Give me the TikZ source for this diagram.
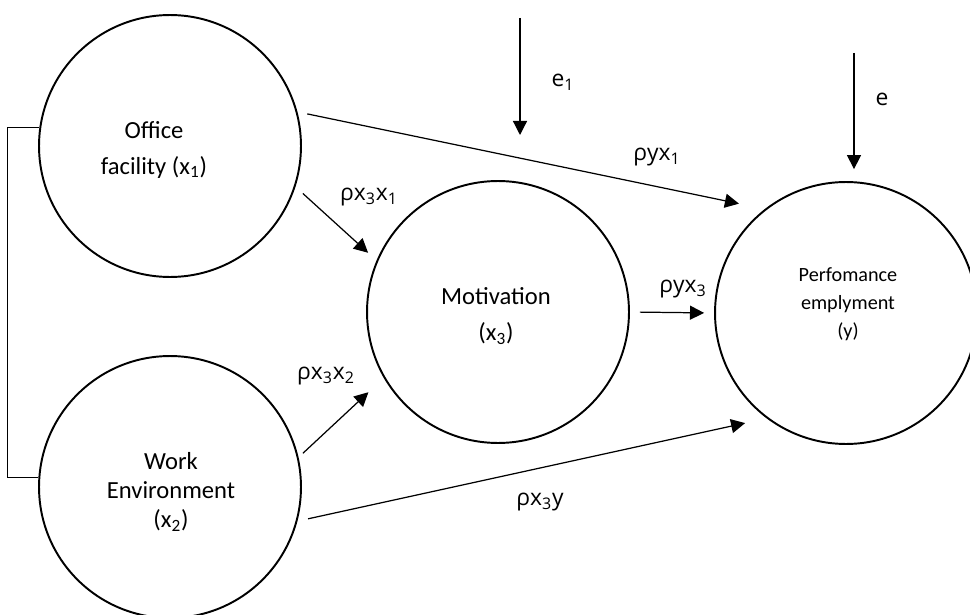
\documentclass[tikz,border=0pt]{standalone}
\usepackage{fontspec}
\setmainfont{Carlito}
\newfontfamily\coeffont{Open Sans}
\usetikzlibrary{arrows.meta}

\begin{document}
\begin{tikzpicture}[x=0.02cm, y=-0.02cm,
				    latent/.style={draw, circle, line width=1.1pt, minimum size=5.24cm,
				    			  inner sep=0pt, text=black},
				    vartext/.style={align=center, text=black},
				    link/.style={-{Triangle[length=8pt, width=8pt]}, line width=0.7pt},
				    coef/.style={font=\coeffont\fontsize{13}{15}\selectfont}]
	\useasboundingbox (0,0) rectangle (970,615);

	\node[latent] (x1) at (170, 146) {};
	\node[latent] (x2) at (170, 487) {};
	\node[latent] (x3) at (498, 312) {};
	\node[latent] (y) at (846, 313) {};

	\node[vartext, font=\fontsize{14}{20}\selectfont] (x1txt) at (154, 150)
		{Office\\facility (x\textsubscript{1})};
	\node[vartext, font=\fontsize{14}{16.5}\selectfont] (x2txt) at (171, 492)
		{Work\\Environment\\(x\textsubscript{2})};
	\node[vartext, font=\fontsize{14}{20.5}\selectfont] (x3txt) at (496, 316)
		{Motivation\\(x\textsubscript{3})};
	\node[vartext, font=\fontsize{11.5}{16}\selectfont] (ytxt) at (848, 304)
		{Perfomance\\emplyment\\(y)};

	\coordinate (e1top) at (520, 18);
	\coordinate (e1end) at (520, 135);
	\coordinate (etop) at (854, 53);

	\path[link] 	(x1.15.5)  edge[shorten <=5.7pt, shorten >=15pt]   (y.128);
	\path[link] 	(x1.-18)   edge[shorten <=5.7pt, shorten >=6.5pt]  (x3.157);
	\path[link] 	(x3.east)  edge[shorten <=5.7pt, shorten >=5.7pt]  (y.west);
	\path[link] 	(x2.13)    edge[shorten <=3.4pt, shorten >=11.9pt] (x3.210);
	\path[link] 	(x2.-15)   edge[shorten <=6.2pt, shorten >=12.5pt] (y.233);
	\path[link] 	(e1top)    edge   (e1end);
	\path[link] 	(etop)     edge[shorten >=6.8pt]   (etop |- y.north);

	\draw[line width=0.7pt] (x1.172) -- ++(-32, 0) |- (x2.176);

	\node[coef] (c1) at (657, 157) {ρyx\textsubscript{1}};
	\node[coef] (c2) at (369, 197) {ρx\textsubscript{3}x\textsubscript{1}};
	\node[coef] (c3) at (326, 376) {ρx\textsubscript{3}x\textsubscript{2}};
	\node[coef] (c4) at (683, 289) {ρyx\textsubscript{3}};
	\node[coef] (c5) at (540, 502) {ρx\textsubscript{3}y};
	\node[coef] (c6) at (563, 82) {e\textsubscript{1}};
	\node[coef] (c7) at (882, 99) {e};

\end{tikzpicture}
\end{document}
